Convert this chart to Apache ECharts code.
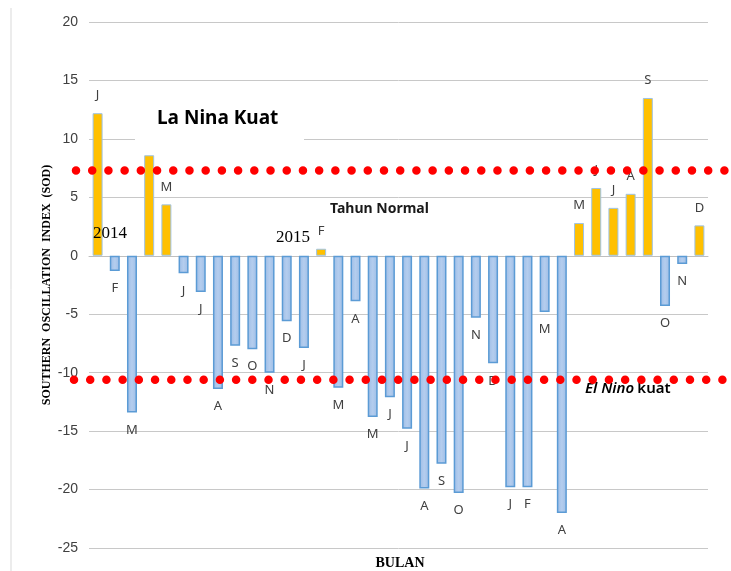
<!DOCTYPE html>
<html>
<head>
<meta charset="utf-8">
<script src="https://cdn.jsdelivr.net/npm/echarts@6/dist/echarts.min.js"></script>
<style>
html,body{margin:0;padding:0;background:#fff;}
#c{width:731px;height:571px;}
</style>
</head>
<body>
<div id="c"></div>
<script>
// Months Jan 2014 .. Dec 2016
const months = ['J','F','M','A','M','J','J','A','S','O','N','D',
                'J','F','M','A','M','J','J','A','S','O','N','D',
                'J','F','M','A','M','J','J','A','S','O','N','D'];
// Labels shown on bars ('' where the reference shows none)
const barLabels = ['J','F','M','','M','J','J','A','S','O','N','D',
                   'J','F','M','A','M','J','J','A','S','O','N','D',
                   'J','F','M','A','M','J','J','A','S','O','N','D'];
const soiValues = [12.2, -1.3, -13.4, 8.6, 4.4, -1.5, -3.1, -11.4, -7.7, -8.0, -10.0, -5.6,
                   -7.9, 0.6, -11.3, -3.9, -13.8, -12.1, -14.8, -19.9, -17.8, -20.3, -5.3, -9.2,
                   -19.8, -19.8, -4.8, -22.0, 2.8, 5.8, 4.1, 5.3, 13.5, -4.3, -0.7, 2.6];
const yTicks = [-25, -20, -15, -10, -5, 0, 5, 10, 15, 20];
const laNinaThreshold = 7.3;
const elNinoThreshold = -10.6;

const chart = echarts.init(document.getElementById('c'));

const blueFill = new echarts.graphic.LinearGradient(0, 0, 1, 0, [
  {offset: 0, color: '#9dbde6'}, {offset: 0.5, color: '#b4cdee'}, {offset: 1, color: '#9dbde6'}
]);

const data = soiValues.map((v, i) => ({
  value: v,
  itemStyle: v >= 0
    ? {color: '#FFC000', borderColor: '#9DC3E6', borderWidth: 1}
    : {color: blueFill, borderColor: '#5B9BD5', borderWidth: 1.5},
  label: {
    show: true,
    position: v >= 0 ? 'top' : 'bottom',
    distance: 11,
    formatter: barLabels[i],
    fontFamily: 'Noto Sans',
    fontSize: 13,
    color: '#404040'
  }
}));

chart.setOption({
  animation: false,
  grid: {left: 89, right: 23, top: 22, bottom: 23, containLabel: false},
  xAxis: {
    type: 'category',
    data: months,
    axisLine: {show: true, onZero: true, lineStyle: {color: '#BFBFBF', width: 1}},
    axisTick: {show: false},
    axisLabel: {show: false},
    splitLine: {show: false}
  },
  yAxis: {
    type: 'value',
    min: yTicks[0],
    max: yTicks[yTicks.length - 1],
    interval: 5,
    axisLine: {show: false},
    axisTick: {show: false},
    axisLabel: {margin: 11, fontFamily: 'Liberation Sans', fontSize: 14, color: '#404040'},
    splitLine: {lineStyle: {color: '#C8C8C8', width: 1}}
  },
  series: [{
    type: 'bar',
    data: data,
    barWidth: 10
  }]
});

const yTop = chart.convertToPixel({yAxisIndex: 0}, laNinaThreshold);
const yBot = chart.convertToPixel({yAxisIndex: 0}, elNinoThreshold);

const dotStyle = {stroke: '#FF0000', lineWidth: 8.5, lineDash: [0.01, 16.2], lineCap: 'round'};

chart.setOption({
  graphic: [
    {type: 'line', shape: {x1: 11, y1: 8, x2: 11, y2: 571}, style: {stroke: '#D9D9D9', lineWidth: 1}, z: 1},
    {type: 'rect', shape: {x: 135, y: 100, width: 169, height: 43}, style: {fill: '#fff'}, z: 49},
    {type: 'text', x: 157, y: 109, z: 50,
     style: {text: 'La Nina Kuat', font: 'bold 19px "Noto Sans"', fill: '#000'}},
    {type: 'text', x: 330, y: 202, z: 50,
     style: {text: 'Tahun Normal', font: 'bold 14px "Noto Sans"', fill: '#1a1a1a'}},
    {type: 'text', x: 93, y: 225, z: 50,
     style: {text: '2014', font: '17px "Liberation Serif"', fill: '#000'}},
    {type: 'text', x: 276, y: 229, z: 50,
     style: {text: '2015', font: '17px "Liberation Serif"', fill: '#000'}},
    {type: 'text', x: 585, y: 381, z: 50,
     style: {text: '{i|El Nino} {n|kuat}', fill: '#000',
             rich: {i: {font: 'italic 600 15px "Noto Sans"', fill: '#000'},
                    n: {font: '600 15px "Noto Sans"', fill: '#000'}}}},
    {type: 'text', x: 400, y: 563, z: 50,
     style: {text: 'BULAN', font: 'bold 14px "Liberation Serif"', fill: '#000', textAlign: 'center', textVerticalAlign: 'middle'}},
    {type: 'text', x: 47, y: 285, rotation: Math.PI / 2, z: 50,
     style: {text: 'SOUTHERN  OSCILLATION  INDEX  (SOD)', font: 'bold 12px "Liberation Serif"', fill: '#000',
             textAlign: 'center', textVerticalAlign: 'middle'}},
    {type: 'line', z: 100, shape: {x1: 76, y1: yTop, x2: 740, y2: yTop}, style: dotStyle},
    {type: 'line', z: 100, shape: {x1: 74, y1: yBot, x2: 740, y2: yBot}, style: dotStyle}
  ]
});
</script>
</body>
</html>
